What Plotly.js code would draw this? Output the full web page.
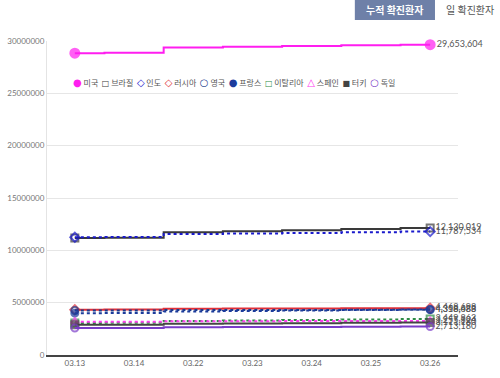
<!DOCTYPE html>
<html>
<head>
<meta charset="utf-8">
<script src="https://cdn.plot.ly/plotly-3.0.1.min.js"></script>
<style>html,body{margin:0;padding:0;background:#fff;}#chart{width:500px;height:378px;}</style>
</head>
<body>
<div id="chart"></div>
<script>
const dates = ['03.13','03.14','03.22','03.23','03.24','03.25','03.26'];
const names = ['미국','브라질','인도','러시아','영국','프랑스','이탈리아','스페인','터키','독일'];
const us      = [28840000, 28870000, 29380000, 29450000, 29520000, 29590000, 29653604];
const brazil  = [11180000, 11200000, 11720000, 11820000, 11920000, 12030000, 12130019];
const india   = [11250000, 11270000, 11560000, 11610000, 11660000, 11720000, 11787534];
const russia  = [4330000, 4340000, 4420000, 4435000, 4445000, 4455000, 4468698];
const uk      = [4250000, 4255000, 4290000, 4300000, 4305000, 4312000, 4318483];
const france  = [4000000, 4010000, 4150000, 4200000, 4250000, 4300000, 4358688];
const italy   = [3060000, 3070000, 3260000, 3300000, 3350000, 3400000, 3449863];
const spain   = [3180000, 3185000, 3220000, 3230000, 3240000, 3250000, 3255324];
const turkey  = [2880000, 2900000, 2980000, 3010000, 3040000, 3080000, 3111180];
const germany = [2580000, 2590000, 2660000, 2670000, 2680000, 2700000, 2713180];
const yTicks = [0, 5000000, 10000000, 15000000, 20000000, 25000000, 30000000];

const series = [us, brazil, india, russia, uk, france, italy, spain, turkey, germany];
const colors = ['#ff1ef0','#3a3a3a','#1a1acc','#e0303a','#1c3c8c','#1c3c9c','#2e8b46','#ff3cf0','#444444','#7a3cc8'];
const symbols = ['circle','square-open','diamond-open','diamond-open','circle-open','circle','square-open','triangle-up-open','square','circle-open'];
const glyphs = ['●','□','◇','◇','○','●','□','△','■','○'];
const glyphSizes = [10, 8, 10, 10, 10, 10, 8, 10, 8, 10];
const dashes = ['solid','solid','dot','solid','dot','dot','dot','dot','solid','solid'];

const FONT = "Lato, 'Noto Sans CJK KR', sans-serif";
const KFONT = "'Noto Sans CJK KR', Lato, sans-serif";

const traces = series.map((vals, i) => {
  const n = vals.length;
  return {
    type: 'scatter',
    mode: 'lines+markers+text',
    name: names[i],
    x: dates,
    y: vals,
    line: {color: colors[i], width: 2, dash: dashes[i], shape: 'hvh'},
    marker: {
      symbol: symbols[i],
      color: colors[i],
      size: vals.map((v, k) => (k === 0 || k === n - 1) ? (i === 0 ? 9 : 7) : 0),
      line: {color: colors[i], width: 2}
    },
    text: vals.map((v, k) => k === n - 1 ? v.toLocaleString('en-US') : ''),
    textposition: 'middle right',
    textfont: {family: FONT, size: 9, color: '#555'},
    cliponaxis: false,
    showlegend: false,
    hoverinfo: 'skip'
  };
});

const legendText = names.map((nm, i) =>
  `<span style="color:${colors[i]};font-size:${glyphSizes[i]}px;font-family:'DejaVu Sans';font-weight:bold">${glyphs[i]}</span> ${nm}`).join('  ');

const layout = {
  width: 500, height: 378,
  margin: {l: 47, r: 42, t: 41, b: 23},
  paper_bgcolor: '#fff', plot_bgcolor: '#fff',
  font: {family: FONT, color: '#666', size: 8},
  showlegend: false,
  xaxis: {
    type: 'category',
    range: [-0.47, 6.47],
    showgrid: false,
    showline: true, linecolor: '#444', linewidth: 1.5,
    ticks: '', tickfont: {size: 8, color: '#666'},
    fixedrange: true
  },
  yaxis: {
    range: [0, 30000000],
    tickvals: yTicks,
    tickformat: 'd',
    showgrid: true, gridcolor: '#e6e6e6', gridwidth: 1,
    showline: true, linecolor: '#e4e4e4', linewidth: 1,
    zeroline: false,
    ticks: '', tickfont: {size: 8, color: '#777'},
    fixedrange: true
  },
  shapes: [
    {type: 'rect', xref: 'paper', yref: 'paper', x0: 0.749, x1: 0.944, y0: 1.067, y1: 1.135,
     fillcolor: '#6e80a8', line: {width: 0}, layer: 'above'}
  ],
  annotations: [
    {xref: 'paper', yref: 'paper', x: 0.8465, y: 1.101, text: '<b>누적 확진환자</b>', showarrow: false,
     font: {family: KFONT, size: 10, color: '#fff'}, xanchor: 'center', yanchor: 'middle'},
    {xref: 'paper', yref: 'paper', x: 1.03, y: 1.101, text: '일 확진환자', showarrow: false,
     font: {family: KFONT, size: 10, color: '#555'}, xanchor: 'center', yanchor: 'middle'},
    {xref: 'paper', yref: 'paper', x: 0.455, y: 0.869, text: legendText, showarrow: false,
     font: {family: KFONT, size: 8, color: '#555'}, xanchor: 'center', yanchor: 'middle'}
  ]
};

Plotly.newPlot('chart', traces, layout, {displayModeBar: false, staticPlot: true});
</script>
</body>
</html>
